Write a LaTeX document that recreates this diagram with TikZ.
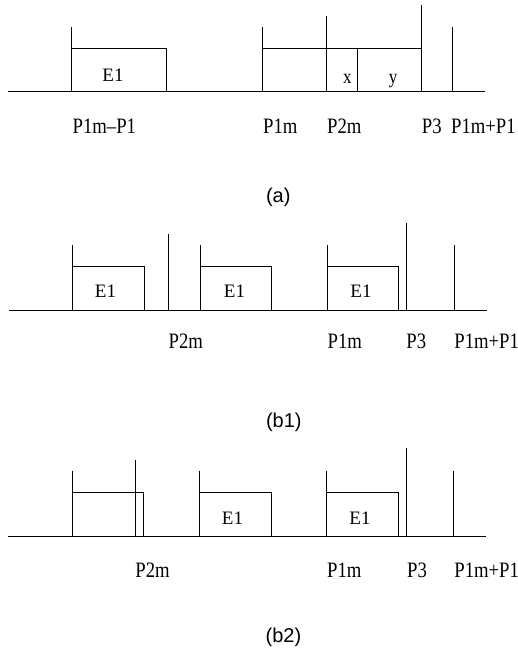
\documentclass[tikz,border=0pt]{standalone}
\usepackage{fontspec}
\setmainfont{Liberation Serif}
\newfontfamily\lblfont[FakeStretch=0.85]{Liberation Serif}
\newfontfamily\capfont{Liberation Sans}
\begin{document}
\begin{tikzpicture}[x=1pt,y=-1pt,line width=0.8pt,
  lbl/.style={anchor=base west,inner sep=0pt,font=\lblfont\fontsize{22}{24}\selectfont},
  etxt/.style={anchor=base,inner sep=0pt,font=\fontsize{19}{20}\selectfont},
  small/.style={anchor=base,inner sep=0pt,font=\lblfont\fontsize{20}{22}\selectfont},
  captxt/.style={anchor=base,inner sep=0pt,font=\capfont\fontsize{20}{24}\selectfont}]
\useasboundingbox (0,0) rectangle (518,653);

% ---------- (a) ----------
\coordinate (aL) at (8,91.5);
\coordinate (aR) at (485,91.5);
\draw (aL) -- (aR);
% E1 box
\draw (71.5,27) -- (71.5,91.5);
\draw (71.5,48.5) -- (166.7,48.5) -- (166.7,91.5);
\node[etxt] (aE1) at (113,81.5) {E1};
% second group
\draw (262.3,27) -- (262.3,91.5);
\draw (262.3,48.5) -- (421.3,48.5);
\draw (326.3,16) -- (326.3,91.5);
\draw (357.3,48.5) -- (357.3,91.5);
\draw (421.3,5) -- (421.3,91.5);
\draw (452.7,27.3) -- (452.7,91.5);
\node[small] (ax) at (347.4,83.3) {x};
\node[small] (ay) at (393,83.3) {y};
% labels
\node[lbl] (aP1mP1) at (72.3,133) {P1m–P1};
\node[lbl] (aP1m) at (262.7,133) {P1m};
\node[lbl] (aP2m) at (326.7,133) {P2m};
\node[lbl] (aP3) at (421.5,133) {P3};
\node[lbl] (aP1mpP1) at (450.7,133) {P1m+P1};
\node[captxt] (capa) at (278.3,202.5) {(a)};

% ---------- (b1) ----------
\coordinate (bL) at (9.3,310);
\coordinate (bR) at (486.7,310);
\draw (bL) -- (bR);
\draw (72.3,245) -- (72.3,310);
\draw (72.3,266) -- (144.3,266) -- (144.3,310);
\node[etxt] (bE1a) at (105.5,297) {E1};
\draw (168.3,234) -- (168.3,310);
\draw (200,245) -- (200,310);
\draw (200,266) -- (271.5,266) -- (271.5,310);
\node[etxt] (bE1b) at (234.5,297) {E1};
\draw (327.5,245) -- (327.5,310);
\draw (327.5,266) -- (398.3,266) -- (398.3,310);
\node[etxt] (bE1c) at (361,297) {E1};
\draw (406,223.3) -- (406,310);
\draw (454,245) -- (454,310);
\node[lbl] (bP2m) at (168.3,348) {P2m};
\node[lbl] (bP1m) at (327.3,348) {P1m};
\node[lbl] (bP3) at (406,348) {P3};
\node[lbl] (bP1mpP1) at (454,348) {P1m+P1};
\node[captxt] (capb1) at (283.8,427) {(b1)};

% ---------- (b2) ----------
\coordinate (cL) at (8,536);
\coordinate (cR) at (486,536);
\draw (cL) -- (cR);
\draw (72.3,470.7) -- (72.3,536);
\draw (72.3,492.3) -- (143.3,492.3) -- (143.3,536);
\draw (135.3,460) -- (135.3,536);
\draw (199.5,470.7) -- (199.5,536);
\draw (199.5,492.3) -- (271.3,492.3) -- (271.3,536);
\node[etxt] (cE1b) at (232.5,524) {E1};
\draw (326.7,470.7) -- (326.7,536);
\draw (326.7,492.3) -- (398.3,492.3) -- (398.3,536);
\node[etxt] (cE1c) at (360,524) {E1};
\draw (406,448) -- (406,536);
\draw (453.3,470.7) -- (453.3,536);
\node[lbl] (cP2m) at (135,577) {P2m};
\node[lbl] (cP1m) at (326.7,577) {P1m};
\node[lbl] (cP3) at (406.7,577) {P3};
\node[lbl] (cP1mpP1) at (454,577) {P1m+P1};
\node[captxt] (capb2) at (283.4,642.5) {(b2)};
\end{tikzpicture}
\end{document}
